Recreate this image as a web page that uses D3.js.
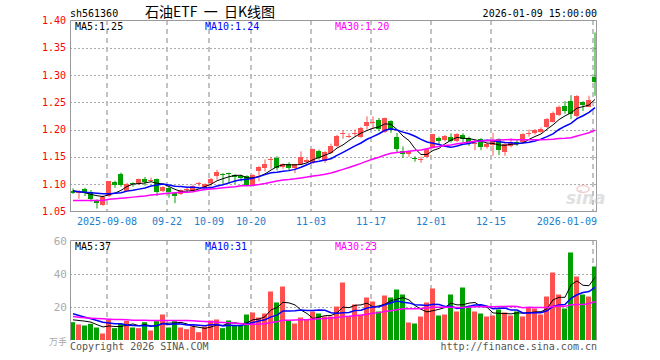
<!DOCTYPE html>
<html>
<head>
<meta charset="utf-8">
<script src="https://cdn.jsdelivr.net/npm/d3@7"></script>
<style>
  body { margin: 0; background: #fff; }
  text { font-family: "DejaVu Sans Mono", monospace; font-size: 10px; }
</style>
</head>
<body>
<svg id="chart" width="660" height="360"></svg>
<script>
// trading days shown (88 sessions)
const dates = [
  '2025-08-29',
  '2025-09-01','2025-09-02','2025-09-03','2025-09-04','2025-09-05','2025-09-08','2025-09-09','2025-09-10','2025-09-11','2025-09-12',
  '2025-09-15','2025-09-16','2025-09-17','2025-09-18','2025-09-19','2025-09-22','2025-09-23','2025-09-24','2025-09-25','2025-09-26',
  '2025-09-29','2025-09-30',
  '2025-10-09','2025-10-10','2025-10-13','2025-10-14','2025-10-15','2025-10-16','2025-10-17','2025-10-20','2025-10-21','2025-10-22',
  '2025-10-23','2025-10-24','2025-10-27','2025-10-28','2025-10-29','2025-10-30','2025-10-31',
  '2025-11-03','2025-11-04','2025-11-05','2025-11-06','2025-11-07','2025-11-10','2025-11-11','2025-11-12','2025-11-13','2025-11-14',
  '2025-11-17','2025-11-18','2025-11-19','2025-11-20','2025-11-21','2025-11-24','2025-11-25','2025-11-26','2025-11-27','2025-11-28',
  '2025-12-01','2025-12-02','2025-12-03','2025-12-04','2025-12-05','2025-12-08','2025-12-09','2025-12-10','2025-12-11','2025-12-12',
  '2025-12-15','2025-12-16','2025-12-17','2025-12-18','2025-12-19','2025-12-22','2025-12-23','2025-12-24','2025-12-25','2025-12-26',
  '2025-12-29','2025-12-30','2025-12-31',
  '2026-01-05','2026-01-06','2026-01-07','2026-01-08','2026-01-09'
];

const open = [
  1.088,1.083,1.090,1.085,1.070,1.062,1.077,1.104,1.118,1.088,
  1.102,1.100,1.110,1.107,1.110,1.086,1.093,1.083,1.082,1.088,
  1.088,1.100,1.093,1.102,1.1135,1.119,1.120,1.116,1.115,1.114,
  1.096,1.123,1.128,1.145,1.148,1.131,1.137,1.128,1.137,1.141,
  1.138,1.161,1.141,1.158,1.170,1.191,1.188,1.192,1.187,1.205,
  1.213,1.217,1.195,1.215,1.187,1.160,1.154,1.148,1.144,1.151,
  1.166,1.185,1.180,1.186,1.179,1.190,1.184,1.175,1.182,1.167,
  1.170,1.182,1.159,1.170,1.177,1.176,1.192,1.193,1.196,1.205,
  1.215,1.227,1.243,1.252,1.225,1.251,1.243,1.296
];
const high = [
  1.092,1.089,1.093,1.089,1.072,1.079,1.105,1.106,1.121,1.102,
  1.103,1.110,1.113,1.112,1.110,1.096,1.095,1.085,1.090,1.093,
  1.099,1.104,1.101,1.111,1.126,1.120,1.121,1.118,1.117,1.116,
  1.118,1.133,1.145,1.150,1.151,1.138,1.140,1.137,1.160,1.147,
  1.165,1.163,1.160,1.174,1.190,1.199,1.193,1.200,1.205,1.224,
  1.224,1.221,1.222,1.217,1.194,1.169,1.161,1.151,1.150,1.166,
  1.192,1.187,1.190,1.193,1.193,1.193,1.187,1.182,1.184,1.175,
  1.194,1.184,1.175,1.184,1.182,1.193,1.200,1.201,1.204,1.221,
  1.233,1.244,1.252,1.263,1.263,1.252,1.262,1.378
];
const low = [
  1.082,1.073,1.078,1.068,1.055,1.060,1.076,1.093,1.095,1.087,
  1.095,1.099,1.097,1.104,1.078,1.085,1.075,1.065,1.080,1.085,
  1.086,1.096,1.092,1.093,1.108,1.099,1.100,1.100,1.105,1.096,
  1.095,1.105,1.123,1.128,1.125,1.128,1.125,1.120,1.136,1.138,
  1.137,1.145,1.139,1.155,1.168,1.183,1.185,1.187,1.185,1.200,
  1.201,1.197,1.194,1.194,1.158,1.148,1.150,1.141,1.139,1.150,
  1.165,1.173,1.178,1.176,1.177,1.176,1.170,1.162,1.162,1.165,
  1.152,1.153,1.152,1.167,1.170,1.175,1.187,1.191,1.194,1.203,
  1.213,1.225,1.229,1.219,1.222,1.234,1.241,1.262
];
const close = [
  1.085,1.087,1.084,1.072,1.065,1.077,1.105,1.098,1.097,1.100,
  1.100,1.109,1.104,1.108,1.086,1.094,1.085,1.078,1.089,1.090,
  1.097,1.101,1.100,1.110,1.1215,1.117,1.118,1.113,1.111,1.098,
  1.117,1.131,1.136,1.146,1.129,1.136,1.129,1.136,1.149,1.145,
  1.164,1.149,1.158,1.170,1.189,1.193,1.189,1.193,1.203,1.213,
  1.214,1.201,1.221,1.199,1.165,1.154,1.160,1.146,1.146,1.165,
  1.191,1.179,1.188,1.179,1.191,1.183,1.176,1.176,1.168,1.173,
  1.180,1.161,1.173,1.178,1.175,1.191,1.193,1.199,1.201,1.219,
  1.231,1.241,1.233,1.229,1.262,1.245,1.255,1.286
];
// volume, 万手
const volume = [
  11,9.6,9,10,7.8,4.2,12.6,7.4,10,11.8,
  7.8,7.4,11,6,11.6,15.6,7.8,11.6,7.8,6.8,
  8.4,5,8.4,12,12.6,7.4,12,9,9,15.6,
  16.8,13.8,16.2,29.4,22.8,32.4,12,10.2,13.8,12.6,
  17.4,16.2,14.4,14.4,20.4,34.8,14.4,21.6,15.6,25.8,
  23.4,17.4,27,25.8,30.6,27.6,10.8,10.2,14.4,22.8,
  31.2,15,15.6,27.6,17.4,31.8,19.8,17.4,16.2,14.4,
  15,18.6,16.8,15,17.4,14.4,19.8,19.2,15.6,26.4,
  40.8,27.6,19.2,52.8,38.4,27.6,26.4,44.4
];

// moving-average values before a full window exists
const ma5Head = [1.088,1.086,1.084,1.081];
const ma10Head = [1.087,1.086,1.085,1.084,1.083,1.082,1.082,1.083,1.084];
const ma30Head = [1.070,1.070,1.070,1.070,1.070,1.070,1.072,1.073,1.074,1.075,
  1.076,1.077,1.078,1.080,1.081,1.082,1.083,1.084,1.085,1.085,
  1.086,1.088,1.090,1.091,1.092,1.093,1.094,1.095,1.097];
const volMa5Head = [12.4,12.0,11.6,11.0];
const volMa10Head = [16,15,14,13,12,11,10.5,10,10];
const volMa30Head = [14.4,14,13.6,13.4,13.2,13,12.8,12.6,12.6,12.4,
  12.2,12.2,12.2,12,12,12,12,12,12,12,
  11.8,11.6,11.4,11.2,11,10.8,10.6,10.4,10.2];

const tickDates = ['2025-09-08','2025-09-22','2025-10-09','2025-10-20','2025-11-03',
  '2025-11-17','2025-12-01','2025-12-15','2026-01-09'];
const priceTicks = [1.05,1.10,1.15,1.20,1.25,1.30,1.35,1.40];
const volTicks = [20,40,60];
const maLabels = ['1.25','1.24','1.20'];
const volMaLabels = ['37','31','23'];

const upColor = '#ff5050', downColor = '#00a000';
const maColors = ['#000000', '#0000ff', '#ff00ff'];
const gridColor = '#aaaaaa', borderColor = '#999999';

const d3svg = d3.select('#chart');
d3svg.append('rect').attr('width', 660).attr('height', 360).attr('fill', '#fff');

const left = 70, right = 597;
const mainTop = 20, mainBottom = 211;
const volTop = 240, volBottom = 340;

const xScale = d3.scaleBand().domain(d3.range(dates.length)).range([left, left + 6 * dates.length]);
const bw = xScale.bandwidth();
const cx = i => xScale(i) + (bw - 1) / 2;
const yScale = d3.scaleLinear().domain([1.05, 1.40]).range([211.3, 20.5]);
const vScale = d3.scaleLinear().domain([0, 60]).range([340.5, 240.5]);

function movingAvg(vals, n, head) {
  return vals.map((v, i) => i < n - 1 ? head[i] : d3.mean(vals.slice(i - n + 1, i + 1)));
}

const crisp = v => Math.round(v) + 0.5;

// grid
function drawGrid(top, bottom, ticks, scale) {
  const g = d3svg.append('g');
  g.selectAll('line.h').data(ticks).enter().append('line')
    .attr('x1', left).attr('x2', right)
    .attr('y1', d => crisp(scale(d))).attr('y2', d => crisp(scale(d)))
    .attr('stroke', gridColor).attr('stroke-dasharray', '2,2');
  g.selectAll('line.v').data(tickDates).enter().append('line')
    .attr('x1', d => xScale(dates.indexOf(d)) + 1)
    .attr('x2', d => xScale(dates.indexOf(d)) + 1)
    .attr('y1', top).attr('y2', bottom)
    .attr('stroke', '#b4b4b4').attr('stroke-width', 1.6).attr('stroke-dasharray', '5,4');
}
drawGrid(mainTop, mainBottom, priceTicks.filter(t => t > 1.05 && t < 1.40), yScale);
drawGrid(volTop, volBottom, [20, 40], vScale);

// candles
const idx = d3.range(dates.length);
const colorOf = i => close[i] >= open[i] ? upColor : downColor;
const candles = d3svg.append('g');
candles.selectAll('line').data(idx).enter().append('line')
  .attr('x1', i => cx(i) + 0.5).attr('x2', i => cx(i) + 0.5)
  .attr('y1', i => yScale(high[i])).attr('y2', i => yScale(low[i]))
  .attr('stroke', colorOf);
candles.selectAll('rect').data(idx).enter().append('rect')
  .attr('x', i => xScale(i)).attr('width', bw - 1)
  .attr('y', i => Math.round(yScale(Math.max(open[i], close[i]))))
  .attr('height', i => Math.max(1, Math.round(Math.abs(yScale(open[i]) - yScale(close[i])))))
  .attr('fill', colorOf);

// volume bars
d3svg.append('g').selectAll('rect').data(idx).enter().append('rect')
  .attr('x', i => xScale(i)).attr('width', bw - 1)
  .attr('y', i => vScale(volume[i])).attr('height', i => volBottom - vScale(volume[i]))
  .attr('fill', colorOf);

// moving averages
const maLine = scale => d3.line().x((d, i) => cx(i) + 0.5).y(d => scale(d));
[[movingAvg(close, 5, ma5Head), 1], [movingAvg(close, 10, ma10Head), 1.5], [movingAvg(close, 30, ma30Head), 1.5]]
  .forEach(([vals, w], k) => {
    d3svg.append('path').datum(vals).attr('d', maLine(yScale))
      .attr('fill', 'none').attr('stroke', maColors[k]).attr('stroke-width', w);
  });
[[movingAvg(volume, 5, volMa5Head), 1], [movingAvg(volume, 10, volMa10Head), 1.5], [movingAvg(volume, 30, volMa30Head), 1.5]]
  .forEach(([vals, w], k) => {
    d3svg.append('path').datum(vals).attr('d', maLine(vScale))
      .attr('fill', 'none').attr('stroke', maColors[k]).attr('stroke-width', w);
  });

// borders
[[mainTop, mainBottom], [volTop, volBottom]].forEach(([t, b]) => {
  d3svg.append('path')
    .attr('d', `M${left + 0.5},${b + 0.5}V${t + 0.5}H${right - 0.5}V${b + 0.5}`)
    .attr('fill', 'none').attr('stroke', borderColor);
});
d3svg.append('line').attr('x1', left).attr('x2', right)
  .attr('y1', mainBottom + 0.5).attr('y2', mainBottom + 0.5).attr('stroke', borderColor);

// watermark
const wm = d3svg.append('g').attr('opacity', 0.55);
wm.append('text').attr('x', 566).attr('y', 204)
  .style('font-family', '"DejaVu Sans", sans-serif').style('font-size', '17px')
  .style('font-style', 'italic').style('font-weight', 'bold')
  .attr('fill', '#c8c8c8').text('sina');
wm.append('ellipse').attr('cx', 583).attr('cy', 189).attr('rx', 6).attr('ry', 3.5)
  .attr('fill', 'none').attr('stroke', '#f0a0a0').attr('stroke-width', 1.5);

// texts
d3svg.append('text').attr('x', 70).attr('y', 17).text('sh561360');
d3svg.append('text').attr('x', 210).attr('y', 17).attr('text-anchor', 'middle')
  .style('font-family', '"Noto Sans CJK SC", sans-serif').style('font-size', '14px')
  .style('white-space', 'pre')
  .text('石油ETF  一  日K线图');
d3svg.append('text').attr('x', 597).attr('y', 17).attr('text-anchor', 'end').text('2026-01-09 15:00:00');

const maX = [75, 205, 335], maNames = ['MA5', 'MA10', 'MA30'];
maNames.forEach((n, k) => {
  d3svg.append('text').attr('x', maX[k]).attr('y', 29.5).attr('fill', maColors[k]).text(`${n}:${maLabels[k]}`);
  d3svg.append('text').attr('x', maX[k]).attr('y', 249.5).attr('fill', maColors[k]).text(`${n}:${volMaLabels[k]}`);
});

d3svg.append('g').selectAll('text').data(priceTicks).enter().append('text')
  .attr('x', 66).attr('y', d => yScale(d) + 3.5).attr('text-anchor', 'end')
  .attr('fill', '#ff0000').text(d => d.toFixed(2));

d3svg.append('g').selectAll('text').data(volTicks).enter().append('text')
  .attr('x', 67).attr('y', d => vScale(d) + 4).attr('text-anchor', 'end')
  .style('font-size', '11px').attr('fill', '#aaaaaa').text(d => d);
d3svg.append('text').attr('x', 67).attr('y', 345).attr('text-anchor', 'end')
  .style('font-family', '"Noto Sans CJK SC", sans-serif').style('font-size', '9px')
  .attr('fill', '#aaaaaa').text('万手');

d3svg.append('g').selectAll('text').data(tickDates).enter().append('text')
  .attr('x', (d, k) => k === tickDates.length - 1 ? right : xScale(dates.indexOf(d)) + 1)
  .attr('y', 225)
  .attr('text-anchor', (d, k) => k === tickDates.length - 1 ? 'end' : 'middle')
  .attr('fill', '#1a80d0')
  .text((d, k) => (k === 0 || k === tickDates.length - 1) ? d : d.slice(5));

d3svg.append('text').attr('x', 70).attr('y', 350).attr('fill', '#555').text('Copyright 2026 SINA.COM');
d3svg.append('text').attr('x', 597).attr('y', 350).attr('text-anchor', 'end').attr('fill', '#555')
  .text('http://finance.sina.com.cn');
</script>
</body>
</html>
